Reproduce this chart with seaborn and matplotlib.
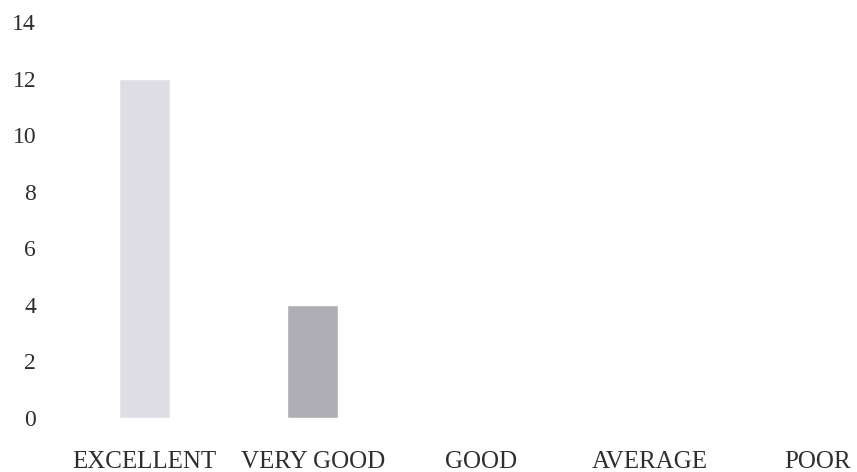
import matplotlib
matplotlib.use('Agg')
import seaborn as sns

import matplotlib.pyplot as plt

import pandas as pd

categories = ["EXCELLENT", "VERY GOOD", "GOOD", "AVERAGE", "POOR"]
counts = [12, 4, 0, 0, 0]
y_ticks = [0, 2, 4, 6, 8, 10, 12, 14]
bar_colors = ["#dedde8", "#aeadb5", "#cccccc", "#cccccc", "#cccccc"]

df = pd.DataFrame({"rating": categories, "count": counts})

sns.set_style("white")
plt.rcParams['font.family'] = ['Liberation Serif', 'DejaVu Serif']

fig = plt.figure(figsize=(8.57, 4.72), dpi=100)
ax = fig.add_axes([50 / 857, 54 / 472, 1 - 50 / 857, 396 / 472])
sns.barplot(data=df, x="rating", y="count", hue="rating", palette=bar_colors,
            width=0.3, legend=False, ax=ax)

ax.set_xlim(-0.56, 4.232)
ax.set_ylim(0, 14)
ax.set_yticks(y_ticks)
ax.set_xlabel("")
ax.set_ylabel("")
sns.despine(ax=ax, left=True, bottom=True)
ax.tick_params(axis='both', length=0, colors="#2e2e2e")
ax.tick_params(axis='x', pad=24, labelsize=18)
ax.tick_params(axis='y', pad=10, labelsize=17)

plt.savefig("out.png", dpi=100)
